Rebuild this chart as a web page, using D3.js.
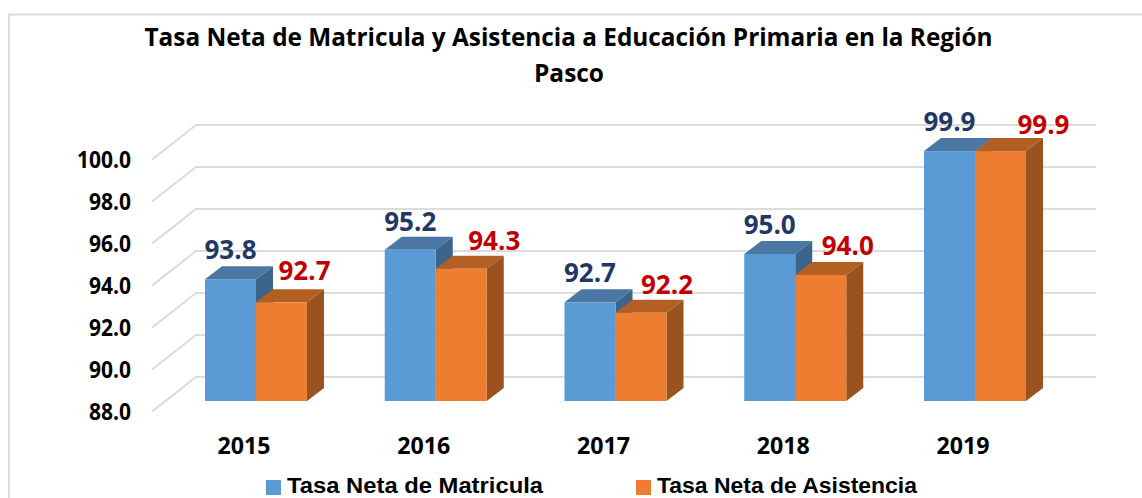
<!DOCTYPE html>
<html><head><meta charset="utf-8">
<script src="https://cdn.jsdelivr.net/npm/d3@7/dist/d3.min.js"></script>
<style>html,body{margin:0;padding:0;background:#fff}svg{display:block}text{font-family:"Open Sans",sans-serif;font-weight:700}</style>
</head><body><svg id="c" width="1142" height="498"></svg>
<script>
const years = ["2015","2016","2017","2018","2019"];
const matricula = [93.8,95.2,92.7,95.0,99.9];
const asistencia = [92.7,94.3,92.2,94.0,99.9];
const yTicks = [88,90,92,94,96,98,100];
const seriesNames = ["Tasa Neta de Matricula","Tasa Neta de Asistencia"];
const titleLines = ["Tasa Neta de Matricula y Asistencia a Educación Primaria en la Región","Pasco"];

// layout (separate from data)
const redLabelDx = [23,33,26,27,43];
const redLabelDy = [22,19,19,20,17];
const blueLabelDy = [20,19,20,20,20];
const svg = d3.select("#c");
const y = d3.scaleLinear().domain([88,100]).range([401,149]);
const x = d3.scaleBand().domain(years).range([205,1026]).paddingInner(0.4325).paddingOuter(0);
const xs = d3.scaleBand().domain(["m","a"]).range([0,x.bandwidth()]);
const DX=17, DY=-13;

function fit(sel,len){return sel.attr("textLength",len).attr("lengthAdjust","spacingAndGlyphs");}

// frame: left and top edges only are visible
svg.append("path").attr("d","M9,498V14.5H1142").attr("fill","none").attr("stroke","#dcdcdc").attr("stroke-width",2);

// title
fit(svg.append("text").attr("x",568.5).attr("y",46).attr("text-anchor","middle").attr("font-size",25).text(titleLines[0]),848);
fit(svg.append("text").attr("x",569).attr("y",82).attr("text-anchor","middle").attr("font-size",25).text(titleLines[1]),70);

// gridlines
const g = svg.append("g").attr("fill","none").attr("stroke","#dcdcdc").attr("stroke-width",2);
yTicks.forEach(t=>{
  const yb=y(t)-24, yf=y(t)+10.6;
  g.append("path").attr("d",d3.line()([[152,yf],[196,yb],[1096,yb]]));
});
// y labels
svg.append("g").selectAll("text").data(yTicks).join("text")
  .attr("x",131).attr("y",d=>y(d)+10.6+8).attr("text-anchor","end").attr("font-size",23)
  .attr("textLength",d=>d===100?54:42).attr("lengthAdjust","spacingAndGlyphs")
  .text(d=>d.toFixed(1));

// bars
const pal={m:{f:"#5b9bd5",t:"#4a78a2",s:"#3d658b"},a:{f:"#ed7d31",t:"#b25f24",s:"#9a521f"}};
function bar(key,year,val){
  const x0=x(year)+xs(key), w=xs.bandwidth(), y0=y(88), y1=y(val), c=pal[key];
  const b=svg.append("g");
  b.append("path").attr("fill",c.s).attr("d",d3.line()([[x0+w,y1],[x0+w+DX,y1+DY],[x0+w+DX,y0+DY],[x0+w,y0]]));
  b.append("path").attr("fill",c.t).attr("d",d3.line()([[x0,y1],[x0+DX,y1+DY],[x0+w+DX,y1+DY],[x0+w,y1]]));
  b.append("rect").attr("x",x0).attr("y",y1).attr("width",w).attr("height",y0-y1).attr("fill",c.f);
}
years.forEach((yr,i)=>{bar("m",yr,matricula[i]);bar("a",yr,asistencia[i]);});

// value labels
years.forEach((yr,i)=>{
  fit(svg.append("text").attr("x",x(yr)+xs("m")+xs.bandwidth()/2).attr("y",y(matricula[i])-blueLabelDy[i])
    .attr("text-anchor","middle").attr("font-size",27).attr("fill","#1f3864").text(matricula[i].toFixed(1)),52);
  fit(svg.append("text").attr("x",x(yr)+xs("a")+xs.bandwidth()/2+redLabelDx[i]).attr("y",y(asistencia[i])-redLabelDy[i])
    .attr("text-anchor","middle").attr("font-size",27).attr("fill","#c00000").text(asistencia[i].toFixed(1)),52);
});

// x labels
svg.append("g").selectAll("text").data(years).join("text")
  .attr("x",d=>x(d)+x.bandwidth()/2-12).attr("y",453.5).attr("text-anchor","middle").attr("font-size",23)
  .attr("textLength",53).attr("lengthAdjust","spacingAndGlyphs").text(d=>d);

// legend
[[266,287,256],[636,657,260]].forEach((p,i)=>{
  svg.append("rect").attr("x",p[0]).attr("y",480).attr("width",15).attr("height",15).attr("fill",i?"#ed7d31":"#5b9bd5");
  fit(svg.append("text").attr("x",p[1]).attr("y",493.3).attr("font-size",22).style("font-family","'Liberation Sans',sans-serif").text(seriesNames[i]),p[2]);
});
</script></body></html>
